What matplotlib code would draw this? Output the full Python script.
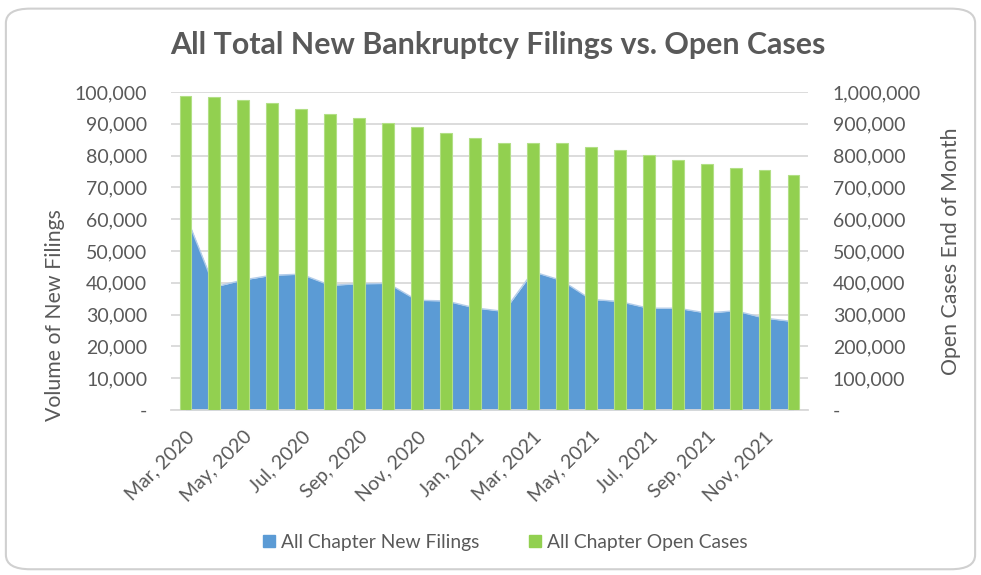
import matplotlib
matplotlib.use("Agg")
import matplotlib.pyplot as plt
from matplotlib.patches import FancyBboxPatch, Patch
from matplotlib.ticker import FuncFormatter

plt.rcParams['font.family'] = ['Lato', 'DejaVu Sans']

# data
months = ['Mar, 2020', 'Apr, 2020', 'May, 2020', 'Jun, 2020', 'Jul, 2020', 'Aug, 2020',
          'Sep, 2020', 'Oct, 2020', 'Nov, 2020', 'Dec, 2020', 'Jan, 2021', 'Feb, 2021',
          'Mar, 2021', 'Apr, 2021', 'May, 2021', 'Jun, 2021', 'Jul, 2021', 'Aug, 2021',
          'Sep, 2021', 'Oct, 2021', 'Nov, 2021', 'Dec, 2021']
new_filings = [61500, 38700, 40900, 42400, 42700, 39200, 39700, 39800, 34500, 34300,
               32100, 31000, 43500, 40700, 34800, 34100, 32000, 32000, 30500, 31200,
               28900, 27800]
open_cases = [987800, 984600, 976400, 965700, 946000, 931000, 917000, 901600, 890900,
              872000, 854400, 839600, 839600, 839600, 828000, 816600, 801900, 787200,
              772600, 761000, 753800, 738000]

blue = '#5b9bd5'
green = '#92d050'
txt = '#595959'
grid = '#d9d9d9'

x = list(range(len(months)))

fig = plt.figure(figsize=(9.81, 5.75), dpi=100)
ax = fig.add_axes([0.1743, 0.287, 0.6493, 0.553])
ax2 = ax.twinx()

ax.fill_between(x, new_filings, 0, color=blue, linewidth=0, zorder=2)
ax.plot(x, new_filings, color='#b3cdea', linewidth=1.0, zorder=3)
ax2.bar(x, open_cases, width=0.41, color=green, edgecolor='#b2df85', linewidth=0.8)

ax.set_xlim(-0.5, len(months) - 0.5)
ax.set_ylim(0, 100000)
ax2.set_ylim(0, 1000000)
ax.set_yticks(range(0, 100001, 10000))
ax2.set_yticks(range(0, 1000001, 100000))

fmt = FuncFormatter(lambda v, p: '-' if v == 0 else f'{int(v):,}')
ax.yaxis.set_major_formatter(fmt)
ax2.yaxis.set_major_formatter(fmt)

ax.set_xticks(x[::2])
ax.set_xticklabels(months[::2], rotation=45, ha='right', va='top', rotation_mode='anchor')

ax.grid(axis='y', color=grid, linewidth=1.3, zorder=0)
ax.set_axisbelow(True)
for a in (ax, ax2):
    for s in a.spines.values():
        s.set_visible(False)
    a.tick_params(length=0, colors=txt, labelsize=14)
ax.spines['bottom'].set_visible(True)
ax.spines['bottom'].set_color(grid)
ax.spines['bottom'].set_linewidth(1.3)
ax.tick_params(axis='y', pad=17)
ax2.tick_params(axis='y', pad=18)
ax.tick_params(axis='x', pad=13)

ax.set_ylabel('Volume of New Filings', fontsize=15.3, color=txt)
ax.yaxis.set_label_coords(-0.166, 0.30)
ax2.set_ylabel('Open Cases End of Month', fontsize=15.3, color=txt)
ax2.yaxis.set_label_coords(1.209, 0.50)

fig.text(0.508, 0.922, 'All Total New Bankruptcy Filings vs. Open Cases',
         ha='center', va='center', fontsize=21.9, fontweight='bold', color=txt)

handles = [Patch(color=blue, label='All Chapter New Filings'),
           Patch(color=green, label='All Chapter Open Cases')]
fig.legend(handles=handles, loc='center', bbox_to_anchor=(0.515, 0.057), ncol=2,
           frameon=False, fontsize=13.9, handlelength=0.6, handleheight=0.6,
           handletextpad=0.3, columnspacing=2.6, labelcolor=txt)

border = FancyBboxPatch((0.006, 0.01), 0.988, 0.975, transform=fig.transFigure,
                        boxstyle='round,pad=0,rounding_size=0.025',
                        facecolor='none', edgecolor='#d0d0d0', linewidth=1.5)
fig.patches.append(border)

fig.savefig('out.png', dpi=100)
